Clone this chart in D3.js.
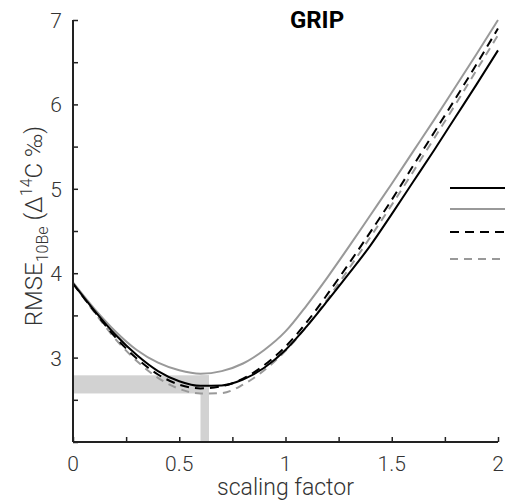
<!DOCTYPE html>
<html>
<head>
<meta charset="utf-8">
<script src="https://cdn.jsdelivr.net/npm/d3@7"></script>
<style>
  html, body { margin: 0; padding: 0; background: #fff; }
  svg { display: block; }
  text { font-family: "Roboto", "Liberation Sans", sans-serif; }
</style>
</head>
<body>
<svg id="chart" width="505" height="501"></svg>
<script>
// Scaling factor samples
const scalingFactor = [0, 0.1, 0.2, 0.3, 0.4, 0.5, 0.6, 0.7, 0.8, 0.9, 1.0,
                       1.1, 1.2, 1.3, 1.4, 1.5, 1.6, 1.7, 1.8, 1.9, 2.0];

// RMSE (Δ14C ‰) for each reconstruction
const rmseBlackSolid = [3.88, 3.56, 3.27, 3.03, 2.84, 2.72, 2.665, 2.67, 2.74, 2.88, 3.09,
                        3.37, 3.68, 4.00, 4.33, 4.70, 5.08, 5.46, 5.85, 6.24, 6.64];
const rmseGraySolid  = [3.89, 3.58, 3.31, 3.09, 2.94, 2.85, 2.81, 2.84, 2.93, 3.09, 3.31,
                        3.62, 3.96, 4.32, 4.69, 5.06, 5.44, 5.82, 6.21, 6.60, 7.00];
const rmseBlackDash  = [3.88, 3.55, 3.24, 2.99, 2.80, 2.68, 2.635, 2.66, 2.75, 2.91, 3.13,
                        3.42, 3.76, 4.12, 4.49, 4.87, 5.27, 5.67, 6.07, 6.48, 6.90];
const rmseGrayDash   = [3.88, 3.54, 3.22, 2.96, 2.76, 2.63, 2.575, 2.58, 2.68, 2.85, 3.08,
                        3.37, 3.70, 4.06, 4.43, 4.81, 5.20, 5.60, 6.00, 6.41, 6.82];

// Range of optimal scaling factors and minimum RMSE values
const optimalScaling = [0.60, 0.64];
const minimumRmse = [2.575, 2.79];

// Tick values
const xTicks = [0, 0.25, 0.5, 0.75, 1, 1.25, 1.5, 1.75, 2];
const xTickLabels = [0, 0.5, 1, 1.5, 2];
const yTicks = [2, 2.5, 3, 3.5, 4, 4.5, 5, 5.5, 6, 6.5, 7];
const yTickLabels = [3, 4, 5, 6, 7];

const series = [
  { values: rmseBlackSolid, color: "#000000", dash: null, width: 2 },
  { values: rmseGraySolid,  color: "#999999", dash: null, width: 2 },
  { values: rmseBlackDash,  color: "#000000", dash: "9,6", width: 2 },
  { values: rmseGrayDash,   color: "#999999", dash: "8,6", width: 2 }
];

const svg = d3.select("#chart");
const x = d3.scaleLinear().domain([0, 2]).range([73, 498]);
const y = d3.scaleLinear().domain([2, 7]).range([442, 20]);

// Shaded band marking the optimum
const shade = svg.append("g").attr("fill", "#d2d2d2");
shade.append("rect")
  .attr("x", x(0)).attr("y", y(minimumRmse[1]))
  .attr("width", x(optimalScaling[1]) - x(0))
  .attr("height", y(minimumRmse[0]) - y(minimumRmse[1]));
shade.append("rect")
  .attr("x", x(optimalScaling[0])).attr("y", y(minimumRmse[1]))
  .attr("width", x(optimalScaling[1]) - x(optimalScaling[0]))
  .attr("height", y(2) - y(minimumRmse[1]));

// Curves
const line = d3.line()
  .x((d, i) => x(scalingFactor[i]))
  .y(d => y(d))
  .curve(d3.curveMonotoneX);

svg.append("g").selectAll("path")
  .data(series.slice().reverse())
  .join("path")
  .attr("d", d => line(d.values))
  .attr("fill", "none")
  .attr("stroke", d => d.color)
  .attr("stroke-width", d => d.width)
  .attr("stroke-dasharray", d => d.dash);

// Axes
const axisColor = "#222";
const xAxis = svg.append("g").attr("transform", `translate(0,${y(2)})`)
  .call(d3.axisBottom(x).tickValues(xTicks).tickSize(-5).tickFormat(""));
const yAxis = svg.append("g").attr("transform", `translate(${x(0)},0)`)
  .call(d3.axisLeft(y).tickValues(yTicks).tickSize(-5).tickFormat(""));
[xAxis, yAxis].forEach(a => {
  a.select(".domain").attr("stroke", axisColor).attr("stroke-width", 2);
  a.selectAll(".tick line").attr("stroke", axisColor).attr("stroke-width", 1.5);
});
xAxis.select(".domain").attr("d", `M${x(0)},0H${x(2)}`);
yAxis.select(".domain").attr("d", `M0,${y(2)}V${y(7)}`);

// Tick labels
svg.append("g").selectAll("text")
  .data(xTickLabels).join("text")
  .attr("x", d => x(d)).attr("y", 471)
  .attr("text-anchor", "middle")
  .attr("font-size", 21).attr("font-weight", 300).attr("fill", "#333")
  .text(d => d);
svg.append("g").selectAll("text")
  .data(yTickLabels).join("text")
  .attr("x", 62).attr("y", d => y(d) + 8)
  .attr("text-anchor", "end")
  .attr("font-size", 21).attr("font-weight", 300).attr("fill", "#333")
  .text(d => d);

// Axis titles
svg.append("text")
  .attr("x", x(1)).attr("y", 495)
  .attr("text-anchor", "middle")
  .attr("font-size", 23).attr("font-weight", 300).attr("fill", "#333")
  .text("scaling factor");

const yTitle = svg.append("text")
  .attr("transform", "translate(42,226) rotate(-90)")
  .attr("text-anchor", "middle")
  .attr("font-size", 24).attr("font-weight", 300).attr("fill", "#333");
yTitle.append("tspan").text("RMSE");
yTitle.append("tspan").attr("font-size", 16).attr("dy", 6).text("10Be");
yTitle.append("tspan").attr("dy", -6).text(" (Δ");
yTitle.append("tspan").attr("font-size", 16).attr("dy", -10).text("14");
yTitle.append("tspan").attr("dy", 10).text("C ‰)");

// Title
svg.append("text")
  .attr("x", 317).attr("y", 28)
  .attr("text-anchor", "middle")
  .attr("font-family", "Liberation Sans, Arial, sans-serif")
  .attr("font-size", 24).attr("font-weight", "bold").attr("fill", "#000")
  .text("GRIP");

// Legend swatches
const legendY = [188, 209, 232, 259];
svg.append("g").selectAll("line")
  .data(series).join("line")
  .attr("x1", 450).attr("x2", 510)
  .attr("y1", (d, i) => legendY[i]).attr("y2", (d, i) => legendY[i])
  .attr("stroke", d => d.color)
  .attr("stroke-width", d => d.width)
  .attr("stroke-dasharray", d => d.dash);
</script>
</body>
</html>
